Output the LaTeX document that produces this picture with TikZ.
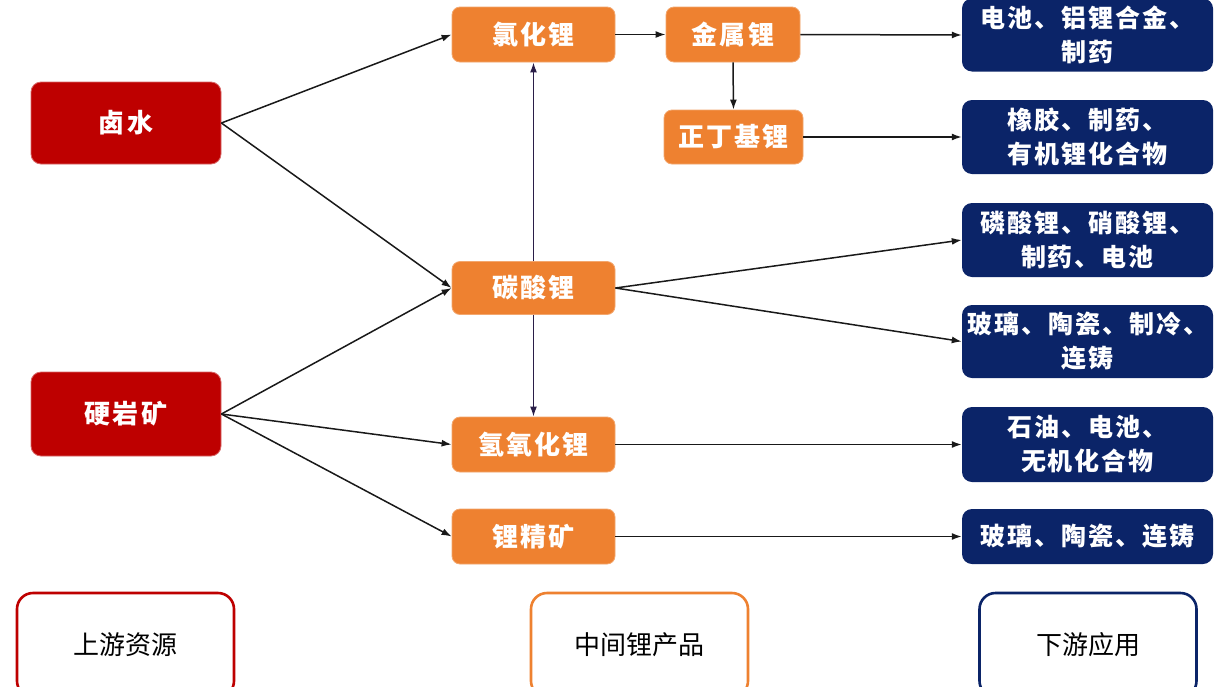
\documentclass[tikz,border=0pt]{standalone}
\usepackage{fontspec}
\setmainfont{Noto Sans CJK SC}
\newfontfamily\spacedfont{Noto Sans CJK SC}[LetterSpace=8]
\usetikzlibrary{arrows.meta}
\definecolor{bred}{HTML}{BE0000}
\definecolor{borange}{HTML}{EE8130}
\definecolor{bnavy}{HTML}{0B2468}
\definecolor{vline}{HTML}{2A1E48}
\tikzset{
  redbox/.style={fill=bred, draw=bred!60!white, line width=0.8pt, rounded corners=10pt, text=white, font=\fontsize{26}{30}\spacedfont\bfseries, minimum width=190pt},
  orbox/.style={fill=borange, draw=borange!70!white, line width=0.8pt, rounded corners=8pt, text=white, font=\fontsize{26}{30}\spacedfont\bfseries},
  navybox/.style={fill=bnavy, rounded corners=10pt, text=white, font=\fontsize{25}{34}\spacedfont\bfseries, align=center, minimum width=251pt, inner sep=0pt},
  legbox/.style={fill=white, line width=2.6pt, rounded corners=16pt, text=black, font=\fontsize{26}{30}\selectfont, minimum width=217pt, minimum height=104pt},
  arr/.style={-{Latex[length=10pt,width=7pt]}, line width=1.5pt, draw=black!90},
  varr/.style={-{Latex[length=10pt,width=7pt]}, line width=1.5pt, draw=vline},
}
\begin{document}
\begin{tikzpicture}[x=1pt,y=-1pt]
\useasboundingbox (0,0) rectangle (1224,686);
\fill[white] (0,0) rectangle (1224,686);
\begin{scope}
\clip (0,0) rectangle (1224,686);
% upstream
\node[redbox, minimum height=82pt] (brine) at (126,123) {卤水};
\node[redbox, minimum height=84pt] (rock) at (126,414) {硬岩矿};
% intermediate
\node[orbox, minimum width=163pt, minimum height=55pt] (licl) at (533.5,34.5) {氯化锂};
\node[orbox, minimum width=163pt, minimum height=53pt] (li2co3) at (533.5,288) {碳酸锂};
\node[orbox, minimum width=163pt, minimum height=55pt] (lioh) at (533.5,444.5) {氢氧化锂};
\node[orbox, minimum width=163pt, minimum height=55pt] (conc) at (533.5,536.5) {锂精矿};
\node[orbox, minimum width=134pt, minimum height=55pt] (metal) at (733,34.5) {金属锂};
\node[orbox, minimum width=139pt, minimum height=54pt] (buli) at (733.5,137) {正丁基锂};
% downstream
\node[navybox, minimum height=73pt] (d1) at (1087.5,35) {电池、铝锂合金、\\制药};
\node[navybox, minimum height=74pt] (d2) at (1087.5,137) {橡胶、制药、\\有机锂化合物};
\node[navybox, minimum height=74pt] (d3) at (1087.5,240) {磷酸锂、硝酸锂、\\制药、电池};
\node[navybox, minimum height=73pt] (d4) at (1087.5,341.5) {玻璃、陶瓷、制冷、\\连铸};
\node[navybox, minimum height=75pt] (d5) at (1087.5,444.5) {石油、电池、\\无机化合物};
\node[navybox, minimum height=55pt] (d6) at (1087.5,536.5) {玻璃、陶瓷、连铸};
% legend
\node[legbox, draw=bred] (l1) at (125.5,645) {上游资源};
\node[legbox, draw=borange] (l2) at (639.5,645) {中间锂产品};
\node[legbox, draw=bnavy] (l3) at (1088,645) {下游应用};
\end{scope}
% connectors
\draw[arr] (brine.east) -- (licl.west);
\draw[arr] (brine.east) -- (li2co3.west);
\draw[arr] (rock.east) -- (li2co3.west);
\draw[arr] (rock.east) -- (lioh.west);
\draw[arr] (rock.east) -- (conc.west);
\draw[varr] (li2co3.north) -- (licl.south);
\draw[varr] (li2co3.south) -- (lioh.north);
\draw[arr] (licl.east) -- (metal.west);
\draw[arr] (metal.south) -- (buli.north);
\draw[arr] (metal.east) -- (d1.west);
\draw[arr] (buli.east) -- (d2.west);
\draw[arr] (li2co3.east) -- (d3.west);
\draw[arr] (li2co3.east) -- (d4.west);
\draw[arr] (lioh.east) -- (d5.west);
\draw[arr] (conc.east) -- (d6.west);
\end{tikzpicture}
\end{document}
